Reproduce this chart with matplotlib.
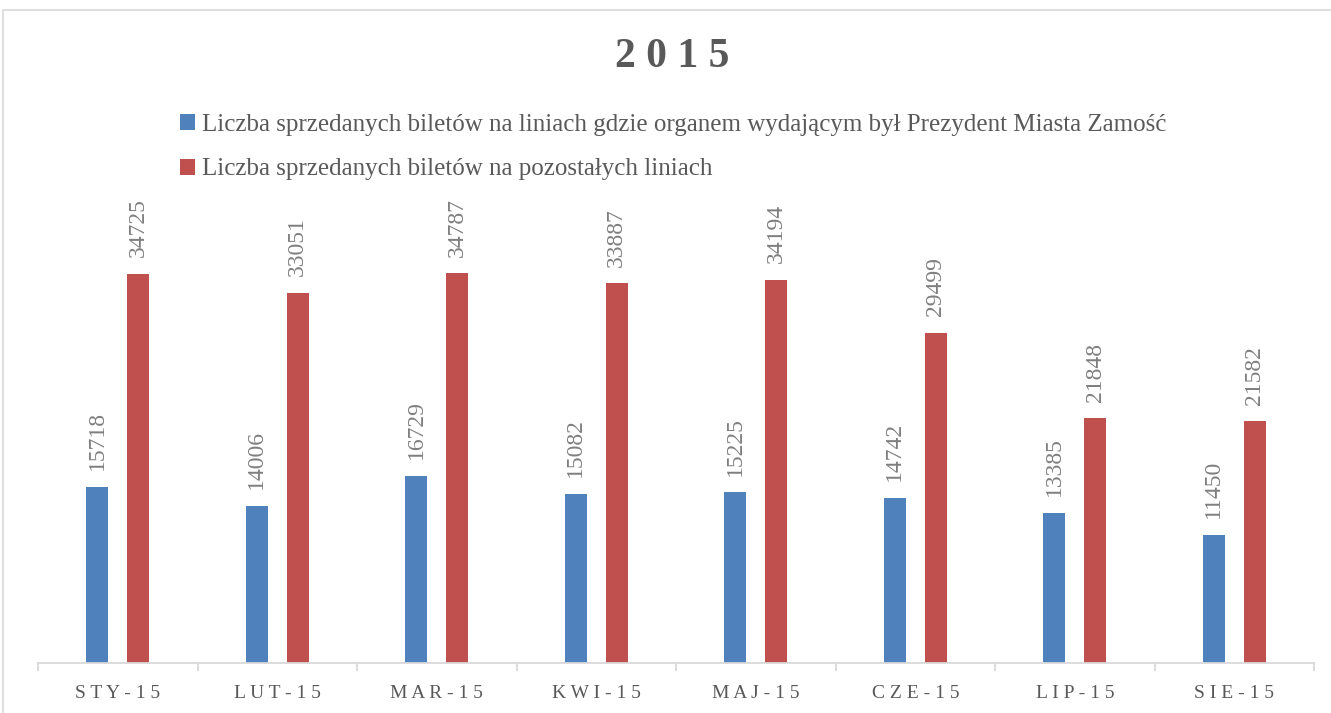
import matplotlib
matplotlib.use("Agg")
import matplotlib.pyplot as plt
from matplotlib.patches import Rectangle
import numpy as np

# dane
months = ['STY-15', 'LUT-15', 'MAR-15', 'KWI-15', 'MAJ-15', 'CZE-15', 'LIP-15', 'SIE-15']
prezydent = [15718, 14006, 16729, 15082, 15225, 14742, 13385, 11450]
pozostale = [34725, 33051, 34787, 33887, 34194, 29499, 21848, 21582]
label_1 = 'Liczba sprzedanych biletów na liniach gdzie organem wydającym był Prezydent Miasta Zamość'
label_2 = 'Liczba sprzedanych biletów na pozostałych liniach'

BLUE = '#4F81BD'
RED = '#C0504D'
GREY = '#595959'

plt.rcParams['font.family'] = ['Liberation Serif', 'DejaVu Serif']

fig = plt.figure(figsize=(13.31, 7.13), dpi=100)
W, H = 1331, 713

# ramka wykresu (wychodzi poza prawą i dolną krawędź)
fig.patches.append(Rectangle((3 / W, -0.1), 1.2, 1.1 - 10 / H, transform=fig.transFigure,
                             fill=False, edgecolor='#d9d9d9', linewidth=1.2))

ax = fig.add_axes([38 / W, (H - 663) / H, (1314 - 38) / W, (663 - 215) / H])

x = np.arange(len(months))
off = 0.129
bw = 0.138
b1 = ax.bar(x - off, prezydent, bw, color=BLUE, label=label_1)
b2 = ax.bar(x + off, pozostale, bw, color=RED, label=label_2)

for bars, vals in ((b1, prezydent), (b2, pozostale)):
    for b, v in zip(bars, vals):
        ax.annotate(str(v), (b.get_x() + b.get_width() / 2, v), xytext=(0, 12),
                    textcoords='offset points', rotation=90, ha='center', va='bottom',
                    fontsize=17, color='#7f7f7f')

ax.set_xlim(-0.5, len(months) - 0.5)
ax.set_ylim(0, 40000)
ax.set_yticks([])
for s in ['left', 'right', 'top']:
    ax.spines[s].set_visible(False)
ax.spines['bottom'].set_color('#d9d9d9')
ax.spines['bottom'].set_linewidth(1.3)

ax.set_xticks(np.arange(len(months) + 1) - 0.5)
ax.set_xticklabels([])
ax.tick_params(axis='x', which='major', length=6, color='#d9d9d9', width=1.3)
ax.set_xticks(x, minor=True)
ax.set_xticklabels([' '.join(m) for m in months], minor=True, fontsize=14, color=GREY)
ax.tick_params(axis='x', which='minor', length=0, pad=16)

fig.text(672 / W, 1 - 57 / H, '2 0 1 5', ha='center', va='center', fontsize=30,
         fontweight='bold', color=GREY)

leg = fig.legend(handles=[b1, b2], loc='upper left', bbox_to_anchor=(180 / W, 1 - 114 / H),
                 frameon=False, fontsize=18, handlelength=0.6, handleheight=0.6,
                 handletextpad=0.3, labelspacing=0.9, borderaxespad=0, borderpad=0)
for t in leg.get_texts():
    t.set_color(GREY)

fig.savefig('out.png', dpi=100)
